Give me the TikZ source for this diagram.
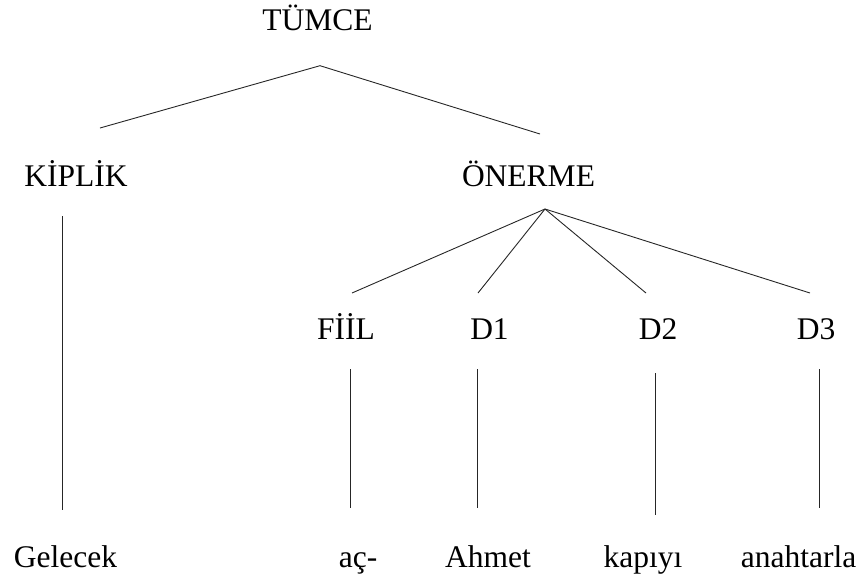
\documentclass[tikz,border=0pt]{standalone}
\usepackage{fontspec}
\setmainfont{Liberation Serif}
\begin{document}
\begin{tikzpicture}[x=1pt,y=-1pt,
  lbl/.style={anchor=base,inner sep=0pt,font=\fontsize{31.5}{36}\selectfont},
  edge/.style={draw=black!85,line width=0.9pt}]
\useasboundingbox (0,0) rectangle (862,579);
% labels
\node[lbl] (tumce) at (317.5,30) {TÜMCE};
\node[lbl] (kiplik) at (76,186) {KİPLİK};
\node[lbl] (onerme) at (528.5,186) {ÖNERME};
\node[lbl] (fiil) at (346,339) {FİİL};
\node[lbl] (d1) at (489.5,339) {D1};
\node[lbl] (d2) at (658,339) {D2};
\node[lbl] (d3) at (816,339) {D3};
\node[lbl] (gelecek) at (65.5,567) {Gelecek};
\node[lbl] (ac) at (358,567) {aç-};
\node[lbl] (ahmet) at (488,567) {Ahmet};
\node[lbl] (kapiyi) at (643,567) {kapıyı};
\node[lbl] (anahtarla) at (798.5,567) {anahtarla};
% branch points
\coordinate (tumce-b) at (320,65.7);
\coordinate (kiplik-t) at (100,128);
\coordinate (onerme-t) at (540,134);
\coordinate (onerme-b) at (545,209);
\coordinate (fiil-t) at (352,293);
\coordinate (d1-t) at (478,293);
\coordinate (d2-t) at (646,293);
\coordinate (d3-t) at (810,293);
\coordinate (kiplik-b) at (62,216);
\coordinate (gelecek-t) at (62,510);
\coordinate (fiil-b) at (350,369);
\coordinate (ac-t) at (350,508);
\coordinate (d1-b) at (477,369);
\coordinate (ahmet-t) at (477,508);
\coordinate (d2-b) at (655,373);
\coordinate (kapiyi-t) at (655,515);
\coordinate (d3-b) at (819.5,369);
\coordinate (anahtarla-t) at (819.5,508);
% tree edges
\draw[edge] (kiplik-t) -- (tumce-b) -- (onerme-t);
\draw[edge] (onerme-b) -- (fiil-t);
\draw[edge] (onerme-b) -- (d1-t);
\draw[edge] (onerme-b) -- (d2-t);
\draw[edge] (onerme-b) -- (d3-t);
\draw[edge] (kiplik-b) -- (gelecek-t);
\draw[edge] (fiil-b) -- (ac-t);
\draw[edge] (d1-b) -- (ahmet-t);
\draw[edge] (d2-b) -- (kapiyi-t);
\draw[edge] (d3-b) -- (anahtarla-t);
\end{tikzpicture}
\end{document}
